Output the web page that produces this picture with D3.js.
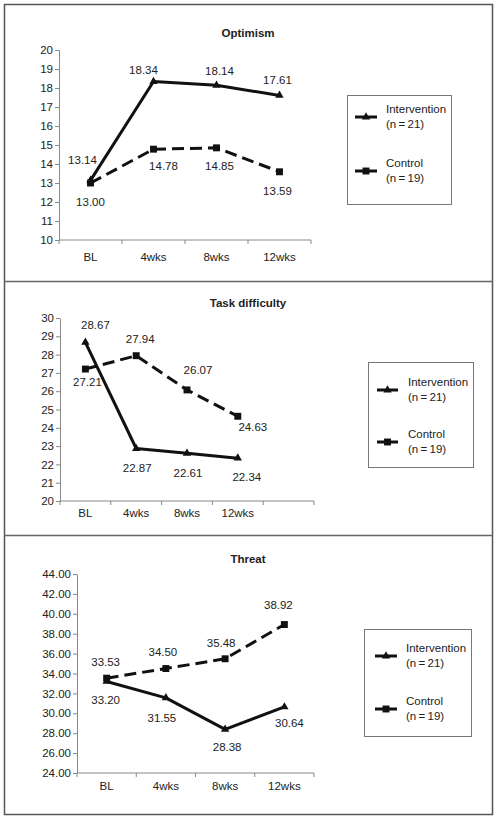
<!DOCTYPE html>
<html>
<head>
<meta charset="utf-8">
<script src="https://cdn.jsdelivr.net/npm/d3@7"></script>
<style>
  html, body { margin: 0; padding: 0; background: #fff; }
  svg text { font-family: "Liberation Sans", Arial, sans-serif; fill: #222; }
</style>
</head>
<body>
<svg id="chart" width="497" height="819"></svg>
<script>
// ---------- DATA ----------
const categories = ["BL", "4wks", "8wks", "12wks"];
const seriesNames = ["Intervention", "Control"];
const seriesN = ["(n\u2009=\u200921)", "(n\u2009=\u200919)"];

const optimismTitle = "Optimism";
const optimismIntervention = [13.14, 18.34, 18.14, 17.61];
const optimismControl = [13.00, 14.78, 14.85, 13.59];
const optimismTicks = [10, 11, 12, 13, 14, 15, 16, 17, 18, 19, 20];

const taskTitle = "Task difficulty";
const taskIntervention = [28.67, 22.87, 22.61, 22.34];
const taskControl = [27.21, 27.94, 26.07, 24.63];
const taskTicks = [20, 21, 22, 23, 24, 25, 26, 27, 28, 29, 30];

const threatTitle = "Threat";
const threatIntervention = [33.20, 31.55, 28.38, 30.64];
const threatControl = [33.53, 34.50, 35.48, 38.92];
const threatTicks = [24, 26, 28, 30, 32, 34, 36, 38, 40, 42, 44];

// ---------- LAYOUT ----------
const svg = d3.select("#chart");
const FONT = 11.5;

const panels = [
  {
    title: optimismTitle, inter: optimismIntervention, ctrl: optimismControl,
    ticks: optimismTicks, fmt: d3.format("d"),
    top: 4, bottom: 281, titleY: 37,
    xRange: [59, 311], extraBands: 0, yDomain: [10, 20], yRange: [240, 50],
    xLabelY: 261, yLabelX: 53,
    legend: { x: 347, y: 95, w: 104, h: 109, lineX: [355, 377], rowY: [117, 171], textX: 386 },
    interOff: [[-8, -20], [-10, -11.5], [3, -14], [-2, -15]],
    ctrlOff: [[0, 19], [10, 17], [3, 18], [-2, 19]]
  },
  {
    title: taskTitle, inter: taskIntervention, ctrl: taskControl,
    ticks: taskTicks, fmt: d3.format("d"),
    top: 281, bottom: 535, titleY: 307,
    xRange: [60, 314], extraBands: 1, yDomain: [20, 30], yRange: [501, 318],
    xLabelY: 517, yLabelX: 54,
    legend: { x: 368, y: 362, w: 105, h: 105, lineX: [377, 398], rowY: [390, 442], textX: 408 },
    interOff: [[10, -17], [1, 19], [1, 20], [9, 19]],
    ctrlOff: [[2, 13], [4, -17], [11, -20], [15, 11]]
  },
  {
    title: threatTitle, inter: threatIntervention, ctrl: threatControl,
    ticks: threatTicks, fmt: d3.format(".2f"),
    top: 535, bottom: 814, titleY: 563,
    xRange: [77, 314], extraBands: 0, yDomain: [24, 44], yRange: [773, 574],
    xLabelY: 790, yLabelX: 70,
    legend: { x: 364, y: 629, w: 107, h: 107, lineX: [375, 397], rowY: [656, 709], textX: 406 },
    interOff: [[-1, 18.5], [-4, 20], [2, 18], [5, 16]],
    ctrlOff: [[-1, -16], [-3, -17], [-4, -16], [-6, -20]]
  }
];

// outer frame
svg.append("rect")
  .attr("x", 4.5).attr("y", 4.5).attr("width", 488).attr("height", 810)
  .attr("fill", "none").attr("stroke", "#555").attr("stroke-width", 1.5);

const triangle = d3.symbol().type(d3.symbolTriangle).size(30);
const square = d3.symbol().type(d3.symbolSquare).size(48);

panels.forEach((p, pi) => {
  const g = svg.append("g");

  if (pi > 0) {
    g.append("line").attr("x1", 4).attr("x2", 493)
      .attr("y1", p.top + 0.5).attr("y2", p.top + 0.5)
      .attr("stroke", "#666").attr("stroke-width", 1.5);
  }

  // title
  g.append("text").attr("x", 248).attr("y", p.titleY)
    .attr("text-anchor", "middle").attr("font-weight", "bold")
    .attr("font-size", FONT).text(p.title);

  const domain = categories.slice();
  for (let i = 0; i < p.extraBands; i++) domain.push("__empty" + i);
  const x = d3.scaleBand().domain(domain).range(p.xRange).padding(0);
  const y = d3.scaleLinear().domain(p.yDomain).range(p.yRange);
  const cx = c => x(c) + x.bandwidth() / 2;

  // y axis
  const yAxis = d3.axisLeft(y).tickValues(p.ticks).tickFormat(p.fmt)
    .tickSize(4).tickSizeOuter(0).tickPadding(2);
  const ya = g.append("g").attr("transform", `translate(${p.xRange[0]},0)`).call(yAxis);
  ya.select(".domain").attr("stroke", "#888");
  ya.selectAll(".tick line").attr("stroke", "#888");
  ya.selectAll("text").attr("font-size", FONT).attr("fill", "#222")
    .attr("font-family", "Liberation Sans, Arial, sans-serif");

  // x axis: baseline + ticks at band boundaries
  const y0 = y(p.yDomain[0]);
  g.append("line").attr("x1", p.xRange[0]).attr("x2", p.xRange[1])
    .attr("y1", y0).attr("y2", y0).attr("stroke", "#888");
  const bounds = domain.map(d => x(d)).concat([p.xRange[1]]);
  g.selectAll(".xt").data(bounds).enter().append("line")
    .attr("x1", d => d).attr("x2", d => d)
    .attr("y1", y0).attr("y2", y0 + 4).attr("stroke", "#888");
  g.selectAll(".xl").data(categories).enter().append("text")
    .attr("x", d => cx(d)).attr("y", p.xLabelY)
    .attr("text-anchor", "middle").attr("font-size", FONT).text(d => d);

  const line = d3.line().x((d, i) => cx(categories[i])).y(d => y(d));

  // control (dashed)
  g.append("path").datum(p.ctrl).attr("d", line)
    .attr("fill", "none").attr("stroke", "#111").attr("stroke-width", 3)
    .attr("stroke-dasharray", "12,6");
  // intervention (solid)
  g.append("path").datum(p.inter).attr("d", line)
    .attr("fill", "none").attr("stroke", "#111").attr("stroke-width", 3)
    .attr("stroke-linejoin", "round");

  g.selectAll(".mi").data(p.inter).enter().append("path")
    .attr("d", triangle)
    .attr("transform", (d, i) => `translate(${cx(categories[i])},${y(d)})`)
    .attr("fill", "#111");
  g.selectAll(".mc").data(p.ctrl).enter().append("path")
    .attr("d", square)
    .attr("transform", (d, i) => `translate(${cx(categories[i])},${y(d)})`)
    .attr("fill", "#111");

  // value labels
  const fmt2 = d3.format(".2f");
  g.selectAll(".li").data(p.inter).enter().append("text")
    .attr("x", (d, i) => cx(categories[i]) + p.interOff[i][0])
    .attr("y", (d, i) => y(d) + p.interOff[i][1])
    .attr("dy", "0.35em").attr("text-anchor", "middle")
    .attr("font-size", FONT).text(d => fmt2(d));
  g.selectAll(".lc").data(p.ctrl).enter().append("text")
    .attr("x", (d, i) => cx(categories[i]) + p.ctrlOff[i][0])
    .attr("y", (d, i) => y(d) + p.ctrlOff[i][1])
    .attr("dy", "0.35em").attr("text-anchor", "middle")
    .attr("font-size", FONT).text(d => fmt2(d));

  // legend
  const L = p.legend;
  g.append("rect").attr("x", L.x + 0.5).attr("y", L.y + 0.5)
    .attr("width", L.w).attr("height", L.h)
    .attr("fill", "none").attr("stroke", "#777").attr("stroke-width", 1);
  const markers = [triangle, square];
  seriesNames.forEach((name, si) => {
    const ry = L.rowY[si];
    g.append("line").attr("x1", L.lineX[0]).attr("x2", L.lineX[1])
      .attr("y1", ry).attr("y2", ry).attr("stroke", "#111").attr("stroke-width", 3);
    g.append("path").attr("d", markers[si])
      .attr("transform", `translate(${(L.lineX[0] + L.lineX[1]) / 2},${ry})`)
      .attr("fill", "#111");
    g.append("text").attr("x", L.textX).attr("y", ry - 4)
      .attr("font-size", FONT).text(name);
    g.append("text").attr("x", L.textX).attr("y", ry + 10.5)
      .attr("font-size", FONT).text(seriesN[si]);
  });
});
</script>
</body>
</html>
